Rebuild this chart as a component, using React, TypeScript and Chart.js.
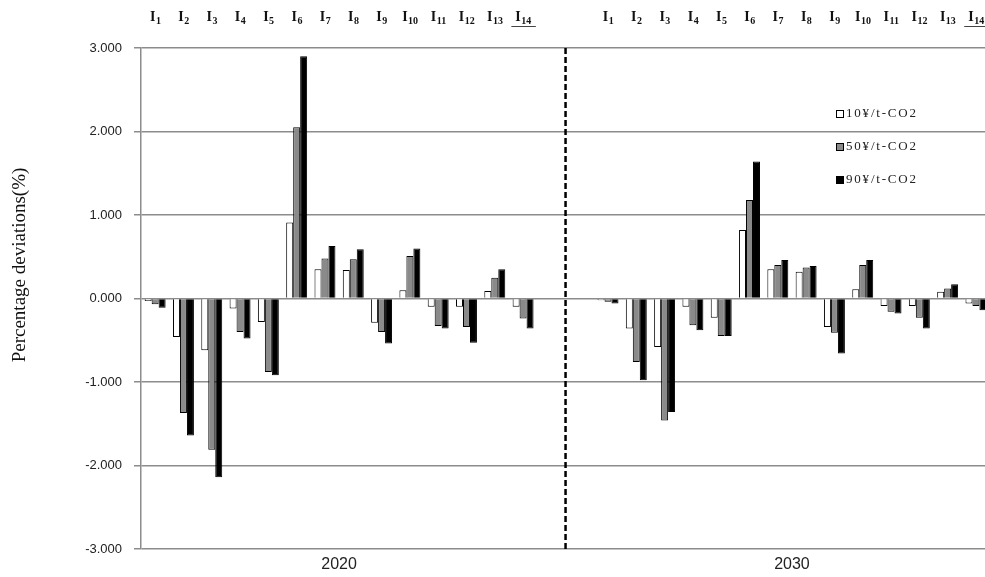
import React, { useEffect, useRef } from "react";
import { Chart, registerables } from "chart.js";

Chart.register(...registerables);

// ---------- data ----------
const sectorPrefix = "I";
const sectorNumbers = ["1", "2", "3", "4", "5", "6", "7", "8", "9", "10", "11", "12", "13", "14"];
const years = ["2020", "2030"];
const seriesLabels = ["10¥/t-CO2", "50¥/t-CO2", "90¥/t-CO2"];
const yTickValues = [-3, -2, -1, 0, 1, 2, 3];
const yAxisTitle = "Percentage deviations(%)";

const tax10_2020 = [-0.03, -0.46, -0.62, -0.12, -0.28, 0.91, 0.35, 0.34, -0.29, 0.10, -0.10, -0.10, 0.09, -0.10];
const tax50_2020 = [-0.07, -1.37, -1.81, -0.40, -0.88, 2.05, 0.48, 0.47, -0.40, 0.51, -0.33, -0.34, 0.25, -0.24];
const tax90_2020 = [-0.11, -1.64, -2.14, -0.48, -0.92, 2.90, 0.63, 0.59, -0.54, 0.60, -0.36, -0.53, 0.35, -0.36];

const tax10_2030 = [-0.02, -0.36, -0.58, -0.10, -0.23, 0.82, 0.35, 0.32, -0.34, 0.11, -0.09, -0.09, 0.08, -0.06];
const tax50_2030 = [-0.04, -0.76, -1.46, -0.32, -0.45, 1.18, 0.40, 0.37, -0.41, 0.40, -0.16, -0.23, 0.12, -0.09];
const tax90_2030 = [-0.06, -0.98, -1.36, -0.38, -0.45, 1.64, 0.46, 0.39, -0.66, 0.46, -0.18, -0.36, 0.17, -0.14];

const seriesByYear = [
  [tax10_2020, tax10_2030],
  [tax50_2020, tax50_2030],
  [tax90_2020, tax90_2030],
];

// ---------- layout / style ----------
const W = 985;
const H = 577;
const GAP_SLOTS = 2;
const SLOTS_PER_YEAR = sectorNumbers.length + GAP_SLOTS;
const X_MIN = -0.5;
const X_MAX = 29.32;
const fills = ["#ffffff", "#8a8a8a", "#000000"];
const GRID = "#8c8c8c";
const SERIF = '"Liberation Serif", "Times New Roman", serif';
const SANS = '"Liberation Sans", Arial, sans-serif';

const separatorPlugin = {
  id: "separator",
  afterDatasetsDraw(chart: any) {
    const x = chart.scales.x;
    const { top, bottom } = chart.chartArea;
    const px = x.getPixelForValue(sectorNumbers.length - 1 + (GAP_SLOTS + 1) / 2);
    const ctx = chart.ctx;
    ctx.save();
    ctx.strokeStyle = "#000";
    ctx.lineWidth = 2.5;
    ctx.setLineDash([6, 3]);
    ctx.beginPath();
    ctx.moveTo(px, top);
    ctx.lineTo(px, bottom);
    ctx.stroke();
    ctx.restore();
  },
};

const topLabelsPlugin = {
  id: "topLabels",
  afterDraw(chart: any) {
    const x = chart.scales.x;
    const ctx = chart.ctx;
    ctx.save();
    ctx.fillStyle = "#111";
    ctx.textBaseline = "alphabetic";
    ctx.textAlign = "left";
    years.forEach((_, yi) => {
      sectorNumbers.forEach((num, i) => {
        const px = x.getPixelForValue(yi * SLOTS_PER_YEAR + i);
        ctx.font = `bold 14px ${SERIF}`;
        const wI = ctx.measureText(sectorPrefix).width;
        ctx.font = `bold 10px ${SERIF}`;
        const wN = ctx.measureText(num).width;
        const total = wI + wN;
        const sx = px - total / 2;
        ctx.font = `bold 14px ${SERIF}`;
        ctx.fillText(sectorPrefix, sx, 21);
        ctx.font = `bold 10px ${SERIF}`;
        ctx.fillText(num, sx + wI + 0.5, 23.5);
        if (i === sectorNumbers.length - 1) {
          ctx.strokeStyle = "#444";
          ctx.lineWidth = 1;
          ctx.beginPath();
          ctx.moveTo(sx - 4, 26.5);
          ctx.lineTo(sx + total + 5, 26.5);
          ctx.stroke();
        }
      });
    });
    ctx.restore();
  },
};

const legendPlugin = {
  id: "customLegend",
  afterDraw(chart: any) {
    const ctx = chart.ctx;
    const x0 = 836;
    const y0 = 114;
    const dy = 33;
    ctx.save();
    chart.data.datasets.forEach((ds: any, i: number) => {
      const yc = y0 + i * dy;
      ctx.fillStyle = ds.backgroundColor;
      ctx.fillRect(x0, yc - 4, 8, 8);
      ctx.strokeStyle = "#000";
      ctx.lineWidth = 1;
      ctx.strokeRect(x0 + 0.5, yc - 4 + 0.5, 7, 7);
      ctx.fillStyle = "#222";
      ctx.font = `13px ${SERIF}`;
      (ctx as any).letterSpacing = "1.8px";
      ctx.textBaseline = "middle";
      ctx.textAlign = "left";
      ctx.fillText(ds.label, x0 + 10, yc);
      (ctx as any).letterSpacing = "0px";
    });
    ctx.restore();
  },
};

const yTitlePlugin = {
  id: "yTitle",
  afterDraw(chart: any) {
    const ctx = chart.ctx;
    ctx.save();
    ctx.translate(20, 265);
    ctx.rotate(-Math.PI / 2);
    ctx.font = `19px ${SERIF}`;
    ctx.fillStyle = "#111";
    ctx.textAlign = "center";
    ctx.textBaseline = "middle";
    ctx.fillText(yAxisTitle, 0, 0);
    ctx.restore();
  },
};

export default function App() {
  const canvasRef = useRef<HTMLCanvasElement | null>(null);

  useEffect(() => {
    if (!canvasRef.current) return;
    const datasets = seriesLabels.map((label, s) => ({
      label,
      data: years.flatMap((_, yi) =>
        seriesByYear[s][yi].map((v, i) => ({ x: yi * SLOTS_PER_YEAR + i, y: v }))
      ),
      backgroundColor: fills[s],
      borderColor: "#000",
      borderWidth: 1,
      categoryPercentage: 0.74,
      barPercentage: 1.0,
    }));

    const chart = new Chart(canvasRef.current, {
      type: "bar",
      data: { datasets },
      options: {
        animation: false,
        responsive: false,
        devicePixelRatio: 1,
        layout: { padding: { top: 48, left: 0, right: 0, bottom: 0 } },
        plugins: {
          legend: { display: false },
          tooltip: { enabled: false },
        },
        scales: {
          x: {
            type: "linear",
            offset: false,
            min: X_MIN,
            max: X_MAX,
            afterBuildTicks: (s: any) => {
              s.ticks = years.map((_, yi) => ({
                value: yi * SLOTS_PER_YEAR + (sectorNumbers.length - 1) / 2,
              }));
            },
            ticks: {
              callback: (_v: any, i: number) => years[i],
              autoSkip: false,
              maxRotation: 0,
              padding: 6,
              color: "#222",
              font: { family: SANS, size: 16 },
            },
            grid: { display: false, drawTicks: false, offset: false },
            border: { display: false },
            afterFit: (s: any) => {
              s.height = 28;
            },
          },
          y: {
            min: -3,
            max: 3,
            afterBuildTicks: (s: any) => {
              s.ticks = yTickValues.map((v) => ({ value: v }));
            },
            ticks: {
              callback: (v: any) => Number(v).toFixed(3),
              padding: 12,
              color: "#222",
              font: { family: SANS, size: 13 },
            },
            grid: { color: GRID, lineWidth: 1.5, tickLength: 7, drawTicks: true },
            border: { display: true, color: GRID, width: 1.5 },
            afterFit: (s: any) => {
              s.width = 141;
            },
          },
        },
      } as any,
      plugins: [separatorPlugin, topLabelsPlugin, legendPlugin, yTitlePlugin],
    });
    return () => chart.destroy();
  }, []);

  return (
    <div style={{ position: "fixed", left: 0, top: 0, width: W, height: H, background: "#fff" }}>
      <canvas ref={canvasRef} width={W} height={H} style={{ display: "block" }} />
    </div>
  );
}
